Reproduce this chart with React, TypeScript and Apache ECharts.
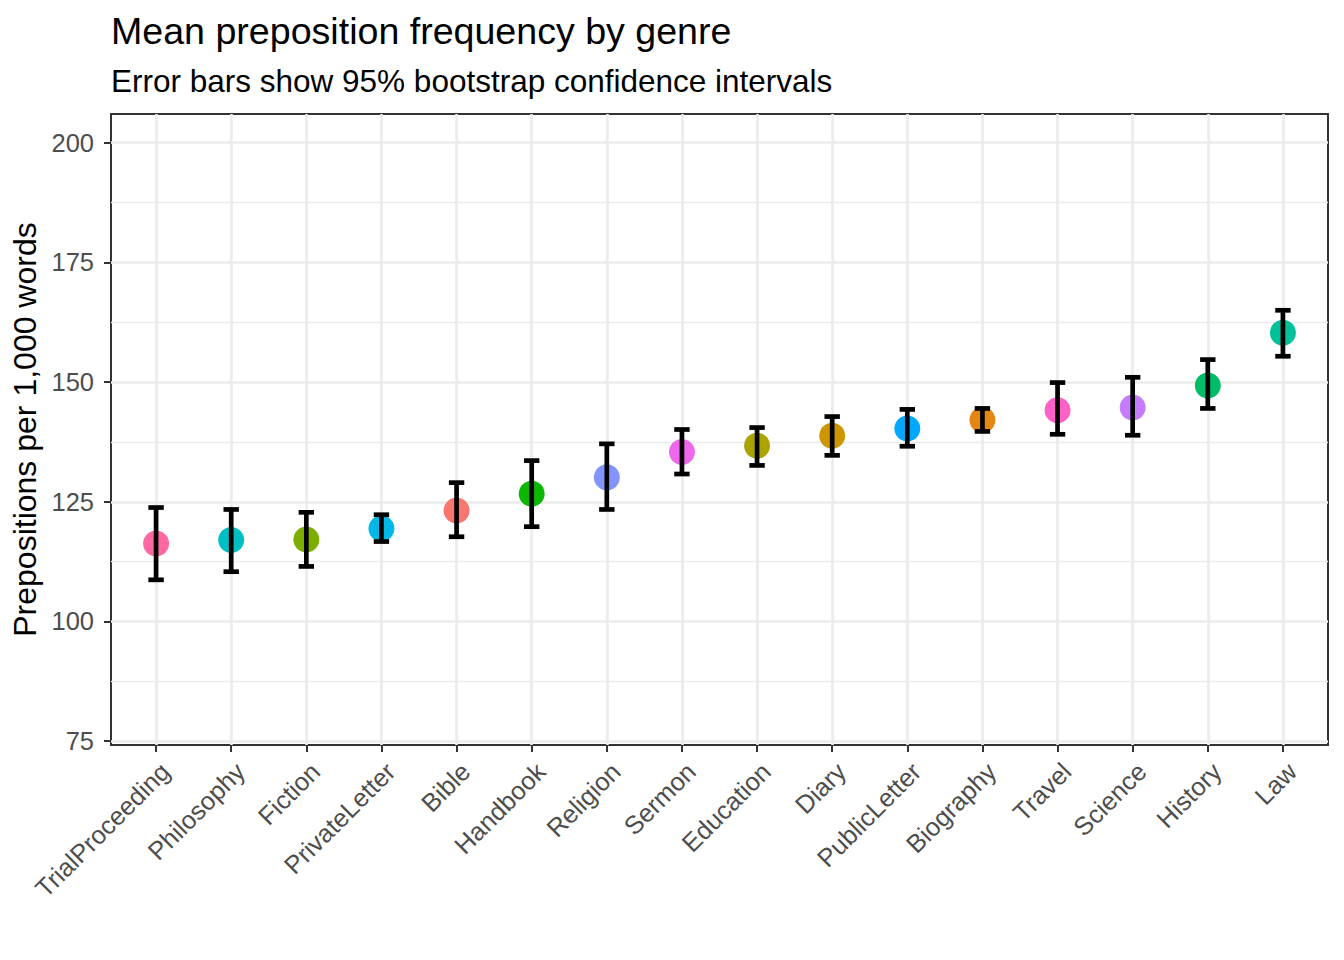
import React, { useEffect, useRef } from "react";
import * as echarts from "echarts";

const genres = [
  "TrialProceeding", "Philosophy", "Fiction", "PrivateLetter", "Bible", "Handbook",
  "Religion", "Sermon", "Education", "Diary", "PublicLetter", "Biography",
  "Travel", "Science", "History", "Law",
];
const means = [116.3, 117.0, 117.1, 119.4, 123.2, 126.7, 130.1, 135.4, 136.7, 138.8, 140.3, 142.1, 144.1, 144.7, 149.3, 160.3];
const lower = [108.7, 110.4, 111.5, 116.7, 117.7, 119.8, 123.4, 130.8, 132.6, 134.7, 136.6, 139.7, 139.1, 138.9, 144.5, 155.4];
const upper = [123.8, 123.4, 122.8, 122.3, 129.0, 133.6, 137.1, 140.1, 140.5, 142.8, 144.3, 144.5, 149.9, 151.0, 154.7, 165.0];
const colors = [
  "#FF68A1", "#00BFC4", "#7CAE00", "#00B8E7", "#F8766D", "#0CB702",
  "#8494FF", "#ED68ED", "#ABA300", "#CD9600", "#00A9FF", "#E68613",
  "#FF61C9", "#C77CFF", "#00BE67", "#00C19A",
];
const yTicks = [75, 100, 125, 150, 175, 200];
const yMinor = [87.5, 112.5, 137.5, 162.5, 187.5];
const xPositions = genres.map((_, i) => i + 1);

const FONT = "'Liberation Sans', Arial, sans-serif";

export default function App() {
  const ref = useRef<HTMLDivElement>(null);
  useEffect(() => {
    if (!ref.current) return;
    const chart = echarts.init(ref.current, undefined, { renderer: "svg" });
    const gridMarks: any[] = [
      ...yMinor.map((v) => ({ yAxis: v, lineStyle: { color: "#EBEBEB", width: 1.3, type: "solid" } })),
      ...yTicks.map((v) => ({ yAxis: v, lineStyle: { color: "#EBEBEB", width: 2.6, type: "solid" } })),
      ...xPositions.map((v) => ({ xAxis: v, lineStyle: { color: "#EBEBEB", width: 2.6, type: "solid" } })),
    ];
    chart.setOption({
      animation: false,
      textStyle: { fontFamily: FONT },
      title: [
        {
          text: "Mean preposition frequency by genre",
          left: 106,
          top: 7,
          textStyle: { fontFamily: FONT, fontSize: 37.6, fontWeight: "normal", color: "#000" },
        },
        {
          text: "Error bars show 95% bootstrap confidence intervals",
          left: 106,
          top: 60,
          textStyle: { fontFamily: FONT, fontSize: 31.5, fontWeight: "normal", color: "#000" },
        },
      ],
      grid: {
        left: 111,
        right: 16,
        top: 114,
        bottom: 215,
        containLabel: false,
        outerBoundsMode: "none",
        show: true,
        borderColor: "#333333",
        borderWidth: 2,
        backgroundColor: "transparent",
      },
      xAxis: {
        type: "value",
        min: 0.4,
        max: 16.6,
        axisLine: { show: false },
        splitLine: { show: false },
        axisTick: {
          show: true,
          length: 7,
          customValues: xPositions,
          lineStyle: { color: "#333333", width: 2 },
        },
        axisLabel: {
          customValues: xPositions,
          rotate: 45,
          margin: 13,
          verticalAlign: "top",
          align: "right",
          fontSize: 25.5,
          color: "#4D4D4D",
          fontFamily: FONT,
          formatter: (v: number) => genres[Math.round(v) - 1] ?? "",
        },
      },
      yAxis: {
        type: "value",
        min: 74.2,
        max: 206,
        name: "Prepositions per 1,000 words",
        nameLocation: "middle",
        nameGap: 58,
        nameTextStyle: { fontSize: 32, color: "#000", fontFamily: FONT },
        axisLine: { show: false },
        splitLine: { show: false },
        axisTick: {
          show: true,
          length: 7,
          customValues: yTicks,
          lineStyle: { color: "#333333", width: 2 },
        },
        axisLabel: {
          customValues: yTicks,
          margin: 17,
          fontSize: 25.5,
          color: "#4D4D4D",
          fontFamily: FONT,
        },
      },
      series: [
        {
          type: "line",
          data: [],
          z: 0,
          silent: true,
          markLine: {
            z: 1,
            silent: true,
            symbol: ["none", "none"],
            label: { show: false },
            animation: false,
            data: gridMarks,
          },
        },
        {
          type: "scatter",
          z: 3,
          symbolSize: 26,
          data: means.map((m, i) => ({ value: [i + 1, m], itemStyle: { color: colors[i], opacity: 1 } })),
        },
        {
          type: "custom",
          z: 4,
          data: means.map((_, i) => [i + 1, lower[i], upper[i]]),
          renderItem: (params: any, api: any) => {
            const x = api.value(0);
            const lo = api.coord([x, api.value(1)]);
            const hi = api.coord([x, api.value(2)]);
            const hw = 7.7;
            const style = { stroke: "#000", lineWidth: 4.7 };
            return {
              type: "group",
              children: [
                { type: "line", shape: { x1: lo[0], y1: lo[1], x2: hi[0], y2: hi[1] }, style },
                { type: "line", shape: { x1: lo[0] - hw, y1: lo[1], x2: lo[0] + hw, y2: lo[1] }, style },
                { type: "line", shape: { x1: hi[0] - hw, y1: hi[1], x2: hi[0] + hw, y2: hi[1] }, style },
              ],
            };
          },
        },
      ],
    });
    return () => chart.dispose();
  }, []);
  return (
    <div
      ref={ref}
      style={{ position: "fixed", left: 0, top: 0, width: 1344, height: 960, background: "#fff" }}
    />
  );
}
